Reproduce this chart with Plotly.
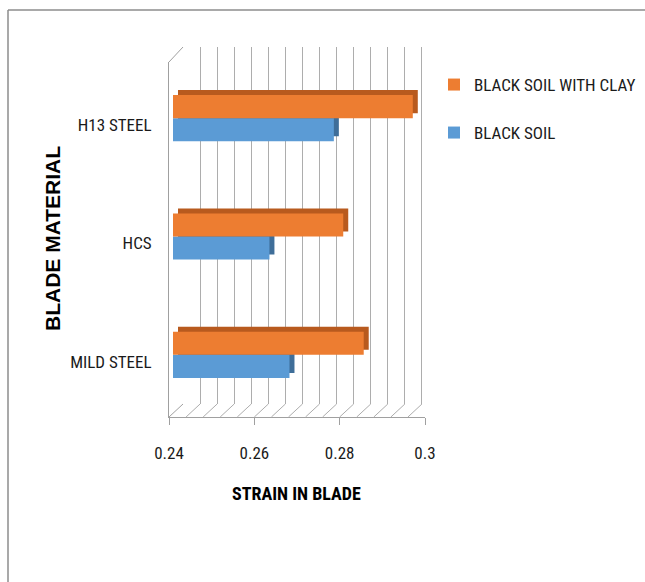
import plotly.graph_objects as go

# ---------------- data ----------------
categories = ["MILD STEEL", "HCS", "H13 STEEL"]          # bottom -> top
clay_strain = [0.2847, 0.2799, 0.2962]                     # BLACK SOIL WITH CLAY
soil_strain = [0.2673, 0.2626, 0.2777]                     # BLACK SOIL
series_names = ["BLACK SOIL WITH CLAY", "BLACK SOIL"]
x_tickvals = [0.24, 0.26, 0.28, 0.30]
x_ticktext = ["0.24", "0.26", "0.28", "0.3"]
x_title = "STRAIN IN BLADE"
y_title = "BLADE MATERIAL"

# ---------------- style ----------------
W, H = 645, 582
ORANGE, BLUE = "#ED7D31", "#5B9BD5"
ORANGE_DARK, BLUE_DARK = "#B85A1E", "#3F6E99"
GRID = "#ADADAD"
FRAME = "#A0A0A0"
NARROW = "Roboto Condensed, Liberation Sans Narrow, Arial Narrow, Roboto, sans-serif"
ARIAL = "Liberation Sans, Arial, sans-serif"
BAR_W = 0.195
X_RANGE = [0.24 - 1e-7, 0.30 + 1e-7]
Y_RANGE = [-0.5, len(categories) - 0.5]
GRID_STEP = 0.004


def px(x):
    return x / W


def py(y):
    return 1 - y / H


fig = go.Figure()

# anchor trace so the back-wall subplot exists
fig.add_trace(go.Scatter(x=[None], y=[None], xaxis="x", yaxis="y", showlegend=False,
                         hoverinfo="skip"))
# back copies (depth faces of the 3D bars)
fig.add_trace(go.Bar(y=categories, x=soil_strain, orientation="h", width=BAR_W, offset=-BAR_W,
                     marker=dict(color=BLUE_DARK, line_width=0), xaxis="x2", yaxis="y2",
                     showlegend=False, hoverinfo="skip"))
fig.add_trace(go.Bar(y=categories, x=clay_strain, orientation="h", width=BAR_W, offset=0,
                     marker=dict(color=ORANGE_DARK, line_width=0), xaxis="x2", yaxis="y2",
                     showlegend=False, hoverinfo="skip"))
# front faces
fig.add_trace(go.Bar(y=categories, x=soil_strain, orientation="h", width=BAR_W, offset=-BAR_W,
                     name=series_names[1], marker=dict(color=BLUE, line_width=0),
                     xaxis="x3", yaxis="y3", legend="legend2"))
fig.add_trace(go.Bar(y=categories, x=clay_strain, orientation="h", width=BAR_W, offset=0,
                     name=series_names[0], marker=dict(color=ORANGE, line_width=0),
                     xaxis="x3", yaxis="y3", legend="legend"))

hidden = dict(visible=False, fixedrange=True)
TXT = dict(family=NARROW, color="#1a1a1a")

fig.update_layout(
    width=W, height=582, autosize=False,
    margin=dict(l=0, r=0, t=0, b=0, autoexpand=False),
    paper_bgcolor="white", plot_bgcolor="rgba(0,0,0,0)",
    barmode="overlay",
    # back wall with gridlines
    xaxis=dict(domain=[px(183), px(439)], range=X_RANGE, anchor="y", showgrid=True,
               tick0=0.24, dtick=GRID_STEP, gridcolor=GRID, gridwidth=1,
               showticklabels=False, ticks="", zeroline=False, showline=False, fixedrange=True),
    yaxis=dict(domain=[py(404), py(47)], range=[0, 1], anchor="x", showgrid=False,
               showticklabels=False, zeroline=False, showline=False, ticks="", fixedrange=True),
    # depth copies
    xaxis2=dict(domain=[px(178), px(434)], range=X_RANGE, anchor="y2", **hidden),
    yaxis2=dict(domain=[py(409), py(54)], range=Y_RANGE, anchor="x2", type="category",
                categoryorder="array", categoryarray=categories, **hidden),
    # front bars
    xaxis3=dict(domain=[px(173), px(429)], range=X_RANGE, anchor="y3", **hidden),
    yaxis3=dict(domain=[py(414), py(59)], range=Y_RANGE, anchor="x3", type="category",
                categoryorder="array", categoryarray=categories, **hidden),
    # front plane axes (labels)
    xaxis4=dict(domain=[px(169), px(425)], range=X_RANGE, anchor="y4",
                tickvals=x_tickvals, ticktext=x_ticktext, ticks="outside", ticklen=7,
                tickcolor=FRAME, showline=True, linecolor=FRAME, linewidth=1,
                showgrid=False, zeroline=False, ticklabelstandoff=14, fixedrange=True,
                tickfont=dict(size=17, **TXT)),
    yaxis4=dict(domain=[py(417), py(62)], range=Y_RANGE, anchor="x4",
                tickvals=list(range(len(categories))), ticktext=categories,
                ticks="", showline=True, linecolor=FRAME, linewidth=1,
                showgrid=False, zeroline=False, ticklabelstandoff=13, ticklabelshift=4,
                fixedrange=True, tickfont=dict(size=17, **TXT)),
    legend=dict(x=px(434), y=py(85), xanchor="left", yanchor="middle",
                bgcolor="rgba(0,0,0,0)", font=dict(size=17, **TXT)),
    legend2=dict(x=px(434), y=py(133), xanchor="left", yanchor="middle",
                 bgcolor="rgba(0,0,0,0)", font=dict(size=17, **TXT)),
)

fig.add_annotation(text=y_title, xref="paper", yref="paper", x=px(52), y=py(239),
                   showarrow=False, textangle=-90, xanchor="center", yanchor="middle",
                   font=dict(family=ARIAL, size=21, color="black", weight="bold"))
fig.add_annotation(text=x_title, xref="paper", yref="paper", x=px(296), y=py(493),
                   showarrow=False, xanchor="center", yanchor="middle",
                   font=dict(family=NARROW, size=18, color="black", weight="bold"))

shapes = []
# chart border (top and left)
shapes.append(dict(type="line", xref="paper", yref="paper", x0=px(8), y0=py(10), x1=1, y1=py(10),
                   line=dict(color="#8C8C8C", width=1.5)))
shapes.append(dict(type="line", xref="paper", yref="paper", x0=px(8), y0=py(10), x1=px(8), y1=0,
                   line=dict(color="#8C8C8C", width=1.5)))
# left wall top edge
shapes.append(dict(type="line", xref="paper", yref="paper", x0=px(169), y0=py(62), x1=px(183), y1=py(47),
                   line=dict(color=FRAME, width=1)))
# floor diagonals at every gridline
n_grid = int(round((0.30 - 0.24) / GRID_STEP))
for k in range(n_grid + 1):
    v = 0.24 + k * GRID_STEP
    shapes.append(dict(type="line", xref="x4", yref="paper", xsizemode="pixel", ysizemode="pixel",
                       xanchor=v, yanchor=py(417), x0=0, x1=14, y0=0, y1=13,
                       line=dict(color=FRAME if k in (0, n_grid) else GRID, width=1)))
fig.update_layout(shapes=shapes)

fig.write_html("out.html")
